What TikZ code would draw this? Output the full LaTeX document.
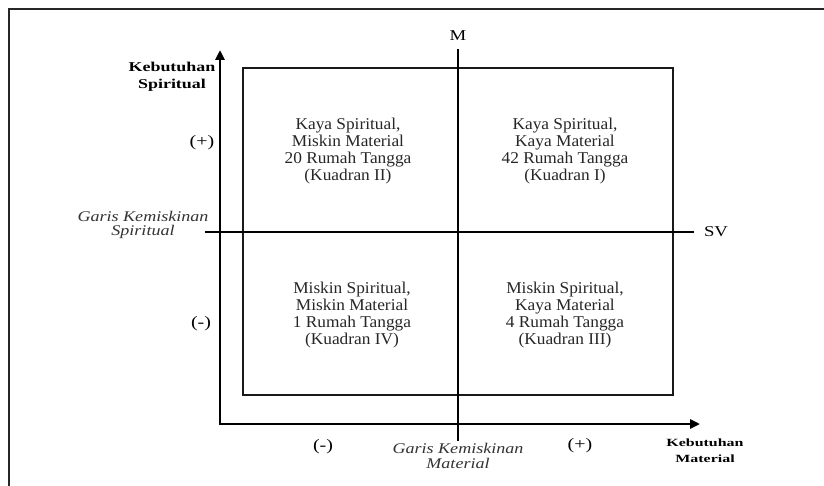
\documentclass[tikz,border=0pt]{standalone}
\usepackage{fontspec}
\setmainfont{Liberation Serif}
\newfontfamily\qfont[FakeStretch=1.05]{Liberation Serif}
\newfontfamily\kfont[FakeStretch=1.33]{Liberation Serif}
\newfontfamily\kbfont[FakeStretch=1.45]{Liberation Serif}
\newfontfamily\ifont[FakeStretch=1.22]{Liberation Serif}
\newfontfamily\mfont[FakeStretch=1.25]{Liberation Serif}
\usetikzlibrary{arrows.meta}
\tikzset{
  frameline/.style={line width=2pt, black!85},
  axisline/.style={line width=2.6pt, {Triangle[length=10pt,width=9pt]}-{Triangle[length=10pt,width=9pt]}},
  boxline/.style={line width=2pt, black!90},
  thinline/.style={line width=1.6pt},
  quad/.style={align=center, inner sep=0pt, font=\qfont\fontsize{16.5}{17}\selectfont, text=black!85},
  axlabel/.style={align=center, inner sep=0pt, font=\kfont\bfseries\fontsize{13.5}{17}\selectfont},
  axlabelb/.style={align=center, inner sep=0pt, font=\kbfont\bfseries\fontsize{11}{16}\selectfont},
  itlabel/.style={align=center, inner sep=0pt, font=\ifont\itshape\fontsize{14.8}{14.5}\selectfont, text=black!80},
  sign/.style={inner sep=0pt, font=\mfont\fontsize{16}{16}\selectfont},
  letter/.style={inner sep=0pt, font=\mfont\fontsize{15}{16}\selectfont}
}
\begin{document}
\begin{tikzpicture}[x=1pt,y=-1pt]
\useasboundingbox (0,0) rectangle (824,486);
% outer frame
\coordinate (fbl) at (9,487);
\coordinate (ftl) at (9,9);
\coordinate (ftr) at (825,9);
\draw[frameline] (fbl) -- (ftl) -- (ftr);
% axes
\coordinate (ytip) at (220,50);
\coordinate (xtip) at (700,424);
\draw[axisline] (ytip) |- (xtip);
% rectangle
\coordinate (r1) at (243,68);
\coordinate (r2) at (673,395);
\draw[boxline] (r1) rectangle (r2);
% M line
\node[letter] (M) at (458,36) {M};
\coordinate (Mtop) at (458,49);
\coordinate (Mbot) at (458,441);
\draw[thinline] (Mtop) -- (Mbot);
% SV line
\node[letter] (SV) at (716,232) {SV};
\coordinate (SVl) at (205,232);
\coordinate (SVr) at (694,232);
\draw[thinline] (SVl) -- (SVr);
% quadrant texts
\node[quad] (q2) at (348,151) {Kaya Spiritual,\\Miskin Material\\20 Rumah Tangga\\(Kuadran II)};
\node[quad] (q1) at (565,151) {Kaya Spiritual,\\Kaya Material\\42 Rumah Tangga\\(Kuadran I)};
\node[quad] (q4) at (352,315) {Miskin Spiritual,\\Miskin Material\\1 Rumah Tangga\\(Kuadran IV)};
\node[quad] (q3) at (565,315) {Miskin Spiritual,\\Kaya Material\\4 Rumah Tangga\\(Kuadran III)};
% axis labels
\node[axlabel] (ks) at (172,77) {Kebutuhan\\Spiritual};
\node[axlabelb] (km) at (705,451) {Kebutuhan\\Material};
\node[itlabel] (gks) at (143,225) {Garis Kemiskinan\\Spiritual};
\node[itlabel] (gkm) at (458,456) {Garis Kemiskinan\\Material};
% signs
\node[sign] (yp) at (202,143) {(+)};
\node[sign] (ym) at (201,324) {(-)};
\node[sign] (xm) at (323,447) {(-)};
\node[sign] (xp) at (580,446) {(+)};
\end{tikzpicture}
\end{document}
